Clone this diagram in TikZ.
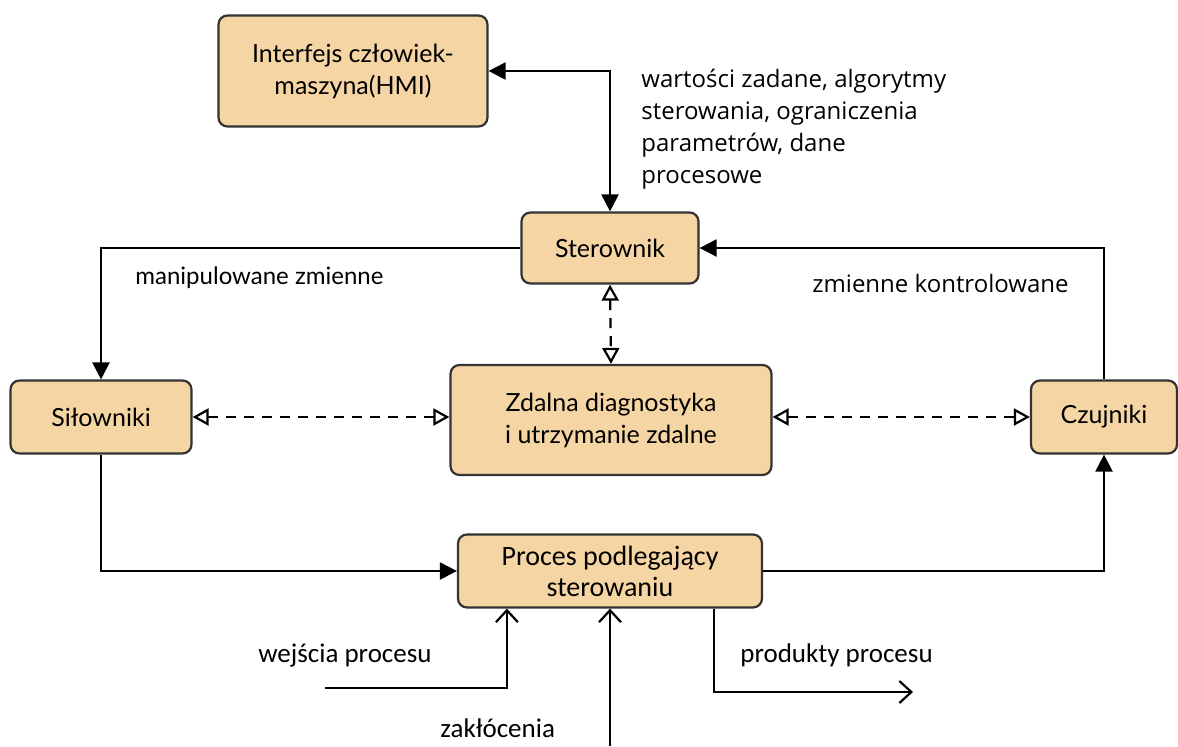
\documentclass[tikz,border=0pt]{standalone}
\usepackage{fontspec}
\setmainfont{Lato}
\newfontfamily\calfont{Carlito}
\newfontfamily\opfont{Open Sans}
\usetikzlibrary{arrows.meta,calc}
\definecolor{boxfill}{HTML}{F5D5A3}
\definecolor{boxline}{HTML}{333333}
\tikzset{
  blok/.style={draw=boxline, fill=boxfill, line width=1.1pt, rounded corners=4.5pt,
    align=center, inner sep=0pt, font=\fontsize{12.5}{16}\selectfont},
  lacze/.style={line width=1.1pt, -{Triangle[length=8.5pt,width=8.5pt]}},
  lacze2/.style={line width=1.1pt, {Triangle[length=8.5pt,width=8.5pt]}-{Triangle[length=8.5pt,width=8.5pt]}},
  diag/.style={line width=1.1pt, dash pattern=on 5pt off 4pt,
    {Triangle[open,length=8pt,width=8.5pt]}-{Triangle[open,length=8pt,width=8.5pt]}},
  wejscie/.style={line width=1.1pt, -{Straight Barb[length=6pt,width=11pt]}},
  opis/.style={font=\opfont\fontsize{12}{16}\selectfont, align=left, inner sep=0pt}
}
\begin{document}
\begin{tikzpicture}[x=0.5pt,y=-0.5pt]
  \useasboundingbox (0,0) rectangle (1178,746);

  % bloki
  \node[blok, minimum width=134.5pt, minimum height=55.5pt] (hmi) at (353,71)
    {Interfejs człowiek-\\maszyna(HMI)};
  \node[blok, minimum width=88.5pt, minimum height=35.5pt] (ster) at (610,248) {Sterownik};
  \node[blok, minimum width=90.5pt, minimum height=36.5pt] (silo) at (101,417) {Siłowniki};
  \node[blok, minimum width=160.5pt, minimum height=55pt] (zdal) at (611,420)
    {Zdalna diagnostyka\\i utrzymanie zdalne};
  \node[blok, minimum width=73pt, minimum height=36.5pt] (czuj) at (1104,417) {Czujniki};
  \node[blok, minimum width=152pt, minimum height=36.5pt, font=\calfont\fontsize{14}{15.5}\selectfont] (proc) at (610,571)
    {Proces podlegający\\sterowaniu};

  % wolne konce
  \coordinate (wejA) at (325,688);
  \coordinate (zakA) at (610,746);
  \coordinate (prodB) at (913,692);

  % polaczenia
  \draw[lacze2] (hmi.east) -| (ster.north);
  \draw[lacze] (ster.west) -| (silo.north);
  \draw[lacze] (czuj.north) |- (ster.east);
  \draw[lacze] (silo.south) |- (proc.west);
  \draw[lacze] (proc.east) -| (czuj.south);
  \draw[diag] (ster.south) -- (zdal.north);
  \draw[diag] (silo.east) -- (silo.east -| zdal.west);
  \draw[diag] (czuj.west -| zdal.east) -- (czuj.west);
  \draw[wejscie] (wejA) -| ($(proc.south west)+(50,0)$);
  \draw[wejscie] (zakA) -- (proc.south);
  \draw[wejscie] ($(proc.south east)+(-49,0)$) |- (prodB);

  % opisy
  \node[opis, anchor=north west] (opHmi) at (641,69)
    {wartości zadane, algorytmy\\sterowania, ograniczenia\\parametrów, dane\\procesowe};
  \node[opis, font=\fontsize{12}{16}\selectfont, anchor=west] (opMan) at (135,278) {manipulowane zmienne};
  \node[opis, anchor=west] (opKon) at (812,283) {zmienne kontrolowane};
  \node[opis, font=\calfont\fontsize{13.5}{16}\selectfont, anchor=west] (opWej) at (258,656) {wejścia procesu};
  \node[opis, font=\calfont\fontsize{13.5}{16}\selectfont, anchor=west] (opProd) at (740,655) {produkty procesu};
  \node[opis, font=\calfont\fontsize{13.5}{16}\selectfont, anchor=south west] (opZak) at (440,738) {zakłócenia};
\end{tikzpicture}
\end{document}
